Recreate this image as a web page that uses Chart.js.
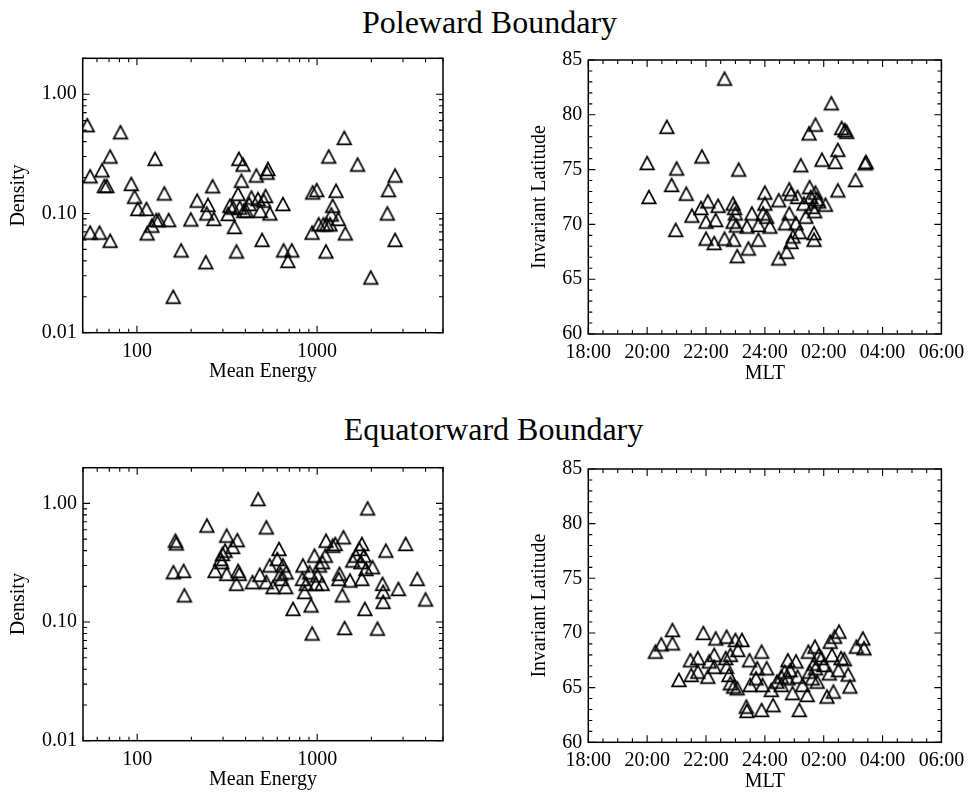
<!DOCTYPE html>
<html>
<head>
<meta charset="utf-8">
<script src="https://cdn.jsdelivr.net/npm/chart.js@4.4.1/dist/chart.umd.min.js"></script>
<style>
  html, body { margin: 0; padding: 0; background: #fff; }
  body { width: 973px; height: 793px; position: relative; overflow: hidden; font-family: "Liberation Serif", "Times New Roman", serif; }
  .title { position: absolute; width: 973px; text-align: center; font-size: 32px; line-height: 32px; color: #000; }
  canvas { position: absolute; }
</style>
</head>
<body>
<div class="title" style="top:6px; left:3px">Poleward Boundary</div>
<div class="title" style="top:413px; left:7px">Equatorward Boundary</div>
<canvas id="poleEnergyChart"></canvas>
<canvas id="poleMltChart"></canvas>
<canvas id="eqEnergyChart"></canvas>
<canvas id="eqMltChart"></canvas>
<script>
// tick labels
const energyTicks = [100, 1000];
const energyTickLabels = ['100', '1000'];
const densityTicks = [0.01, 0.1, 1];
const densityTickLabels = ['0.01', '0.10', '1.00'];
const mltTicks = [18, 20, 22, 24, 26, 28, 30];
const mltTickLabels = ['18:00', '20:00', '22:00', '24:00', '02:00', '04:00', '06:00'];
const latTicks = [60, 65, 70, 75, 80, 85];

// poleward boundary: mean energy vs density
const poleEnergy = [53, 55, 55, 62, 64, 66, 68, 71, 71, 81, 93, 97, 101, 113, 114, 121, 126, 128, 132, 142,
  150, 159, 176, 199, 216, 241, 248, 244, 263, 267, 321, 342, 348, 364, 368, 357, 380, 388, 372, 392,
  405, 432, 460, 470, 484, 495, 505, 534, 528, 518, 547, 646, 652, 688, 724, 938, 945, 995, 1020, 1084,
  1130, 1160, 1180, 1220, 1200, 1120, 1274, 1310, 1416, 1435, 1678, 1986, 2455, 2490, 2710, 2710, 328, 420];
const poleDensity = [0.55, 0.205, 0.069, 0.069, 0.23, 0.17, 0.17, 0.30, 0.059, 0.48, 0.177, 0.138, 0.109, 0.109, 0.068, 0.079, 0.287, 0.088, 0.088, 0.147,
  0.088, 0.020, 0.049, 0.089, 0.128, 0.039, 0.118, 0.100, 0.169, 0.090, 0.099, 0.112, 0.077, 0.146, 0.287, 0.048, 0.188, 0.257, 0.112, 0.105,
  0.105, 0.136, 0.208, 0.132, 0.105, 0.060, 0.128, 0.236, 0.220, 0.140, 0.100, 0.120, 0.049, 0.040, 0.049, 0.069, 0.150, 0.157, 0.081, 0.081,
  0.081, 0.300, 0.081, 0.116, 0.098, 0.048, 0.155, 0.090, 0.430, 0.068, 0.257, 0.029, 0.100, 0.157, 0.208, 0.060, 0.116, 0.120];

// poleward boundary: MLT (hours, 24+ = after midnight) vs invariant latitude
const poleMlt = [20.0, 20.06, 20.67, 20.83, 21.0, 20.97, 21.33, 21.52, 21.86, 21.83, 22.06, 22.0, 22.0, 22.28, 22.33, 22.41, 22.63, 22.63, 22.92, 22.94,
  22.92, 23.0, 23.03, 23.06, 22.97, 23.11, 23.39, 23.44, 23.56, 23.78, 23.78, 23.94, 24.0, 24.0, 24.06, 24.17, 24.47, 24.47, 24.74, 24.7,
  24.83, 24.83, 24.89, 24.89, 24.96, 25.06, 25.11, 25.17, 25.22, 25.33, 25.39, 25.5, 25.52, 25.56, 25.61, 25.67, 25.67, 25.72, 25.69, 25.72,
  25.78, 25.83, 25.94, 26.06, 26.26, 26.39, 26.48, 26.48, 26.61, 26.72, 26.78, 27.08, 27.41, 27.44];
const poleLat = [75.6, 72.5, 78.9, 73.6, 75.1, 69.5, 72.8, 70.8, 76.2, 71.5, 72.1, 70.25, 68.7, 68.3, 70.4, 71.7, 83.3, 68.7, 71.9, 68.6,
  70.25, 71.0, 69.9, 67.1, 71.5, 75.0, 69.8, 67.8, 71.0, 68.6, 69.95, 71.0, 72.9, 71.9, 70.7, 69.8, 72.2, 66.9, 67.5, 70.1,
  71.0, 73.2, 72.8, 68.4, 68.9, 70.1, 72.5, 69.3, 75.4, 71.9, 70.7, 78.3, 73.4, 72.5, 71.6, 69.2, 68.6, 79.1, 71.2, 72.9,
  72.3, 72.1, 75.9, 71.8, 81.05, 75.7, 76.8, 73.1, 78.8, 78.6, 78.45, 74.05, 75.57, 75.7];

// equatorward boundary: mean energy vs density
const eqEnergy = [163, 165, 159, 181, 183, 244, 271, 291, 298, 295, 308, 314, 314, 339, 360, 364, 356, 369, 437, 470,
  480, 522, 545, 522, 569, 614, 600, 626, 645, 632, 668, 673, 734, 833, 828, 851, 869, 907, 925, 938,
  966, 985, 1004, 1030, 1065, 1070, 1110, 1120, 1220, 1260, 1317, 1330, 1380, 1400, 1420, 1521, 1574, 1640, 1715, 1750,
  1770, 1770, 1820, 1840, 1905, 1865, 2030, 2163, 2306, 2325, 2325, 2406, 2826, 3100, 3597, 4000];
const eqDensity = [0.485, 0.46, 0.263, 0.27, 0.168, 0.65, 0.27, 0.34, 0.375, 0.32, 0.40, 0.535, 0.255, 0.43, 0.49, 0.27, 0.21, 0.255, 0.217, 1.087,
  0.25, 0.628, 0.30, 0.217, 0.197, 0.413, 0.34, 0.255, 0.30, 0.231, 0.197, 0.262, 0.129, 0.30, 0.231, 0.179, 0.21, 0.262, 0.138, 0.080,
  0.363, 0.21, 0.247, 0.30, 0.21, 0.32, 0.363, 0.485, 0.44, 0.455, 0.231, 0.255, 0.168, 0.518, 0.089, 0.224, 0.33, 0.363, 0.413, 0.32,
  0.455, 0.231, 0.363, 0.129, 0.908, 0.28, 0.29, 0.088, 0.21, 0.18, 0.148, 0.40, 0.19, 0.455, 0.231, 0.155];

// equatorward boundary: MLT vs invariant latitude
const eqMlt = [20.28, 20.48, 20.86, 20.86, 21.08, 21.47, 21.5, 21.72, 21.72, 21.91, 22.06, 22.11, 22.28, 22.33, 22.28, 22.67, 22.7, 22.7, 22.78, 22.83,
  22.83, 22.94, 23.0, 23.08, 23.06, 23.22, 23.37, 23.39, 23.48, 23.5, 23.7, 23.74, 23.89, 23.89, 23.92, 24.06, 24.22, 24.28, 24.41, 24.56,
  24.56, 24.67, 24.78, 24.78, 24.86, 24.94, 25.06, 25.11, 25.17, 25.28, 25.44, 25.48, 25.52, 25.61, 25.67, 25.7, 25.72, 25.78, 25.83, 25.92,
  26.0, 26.11, 26.19, 26.22, 26.28, 26.33, 26.37, 26.52, 26.5, 26.59, 26.7, 26.83, 26.89, 27.11, 27.33, 27.37];
const eqLat = [68.29, 68.96, 70.27, 69.05, 65.7, 67.5, 66.16, 67.7, 66.46, 70.0, 66.0, 67.4, 68.0, 69.5, 66.9, 67.7, 69.66, 66.9, 66.16, 68.0,
  65.4, 65.1, 69.36, 68.45, 64.94, 69.36, 63.26, 62.87, 67.5, 65.24, 65.85, 66.77, 68.29, 62.96, 65.24, 66.77, 64.79, 63.4, 65.55, 66.0,
  65.24, 66.46, 67.5, 65.85, 66.6, 64.5, 67.4, 66.0, 62.96, 65.24, 64.33, 68.29, 66.46, 65.85, 67.2, 68.75, 66.77, 65.55, 67.98, 67.7,
  67.07, 64.18, 66.3, 69.2, 67.98, 64.64, 69.66, 70.12, 66.6, 67.7, 67.6, 66.2, 65.1, 68.75, 69.5, 68.6];

Chart.defaults.color = '#000';
Chart.defaults.font.family = '"Liberation Serif", "Times New Roman", serif';

// open triangle like IDL psym=5, centred on its box
function triangleMarker() {
  const c = document.createElement('canvas');
  c.width = 20; c.height = 20;
  const g = c.getContext('2d');
  g.strokeStyle = '#000';
  g.lineWidth = 1.7;
  g.beginPath();
  g.moveTo(10 - 6.8, 10 + 6.4);
  g.lineTo(10, 10 - 6.4);
  g.lineTo(10 + 6.8, 10 + 6.4);
  g.closePath();
  g.stroke();
  return c;
}
const marker = triangleMarker();

function logMinor(min, max) {
  const out = [];
  for (let d = Math.floor(Math.log10(min)); d <= Math.ceil(Math.log10(max)); d++) {
    for (let k = 1; k < 10; k++) {
      const v = k * Math.pow(10, d);
      if (v >= min * 0.999 && v <= max * 1.001) out.push({ v: v, major: k === 1 });
    }
  }
  return out;
}
function linMinor(min, max, step, majorEvery) {
  const out = [];
  for (let v = min; v <= max + 1e-9; v += step) {
    out.push({ v: v, major: Math.abs(v / majorEvery - Math.round(v / majorEvery)) < 1e-6 });
  }
  return out;
}

// box frame with inward ticks on all four sides
const framePlugin = {
  id: 'idlFrame',
  afterDraw(chart) {
    const { ctx, chartArea: a, scales } = chart;
    const xs = scales.x, ys = scales.y;
    const xt = xs.type === 'logarithmic' ? logMinor(xs.min, xs.max) : linMinor(xs.min, xs.max, 0.5, 2);
    const yt = ys.type === 'logarithmic' ? logMinor(ys.min, ys.max) : linMinor(ys.min, ys.max, 1, 5);
    ctx.save();
    ctx.strokeStyle = '#000';
    ctx.lineWidth = 1.1;
    ctx.beginPath();
    xt.forEach(t => {
      const px = xs.getPixelForValue(t.v);
      const len = t.major ? 7 : 4;
      ctx.moveTo(px, a.bottom); ctx.lineTo(px, a.bottom - len);
      ctx.moveTo(px, a.top); ctx.lineTo(px, a.top + len);
    });
    yt.forEach(t => {
      const py = ys.getPixelForValue(t.v);
      const len = t.major ? 7 : 4;
      ctx.moveTo(a.left, py); ctx.lineTo(a.left + len, py);
      ctx.moveTo(a.right, py); ctx.lineTo(a.right - len, py);
    });
    ctx.stroke();
    ctx.lineWidth = 1.5;
    ctx.strokeRect(a.left, a.top, a.right - a.left, a.bottom - a.top);
    ctx.restore();
  }
};

function makePanel(id, box, xOpts, yOpts, xVals, yVals) {
  const canvas = document.getElementById(id);
  canvas.width = box.width;
  canvas.height = box.height;
  canvas.style.left = box.left + 'px';
  canvas.style.top = box.top + 'px';
  const yWidth = box.plotLeft - box.left;
  const xHeight = 49.3;
  const pad = {
    left: 0,
    top: box.plotTop - box.top,
    right: box.left + box.width - box.plotRight,
    bottom: box.top + box.height - (box.plotBottom + xHeight)
  };
  const tickFont = { size: 20, lineHeight: 1 };
  new Chart(canvas, {
    type: 'scatter',
    data: {
      datasets: [{
        data: xVals.map((v, i) => ({ x: v, y: yVals[i] })),
        pointStyle: marker,
        pointRadius: 7,
        pointHoverRadius: 7
      }]
    },
    plugins: [framePlugin],
    options: {
      responsive: false,
      animation: false,
      events: [],
      layout: { padding: pad },
      plugins: { legend: { display: false }, tooltip: { enabled: false } },
      scales: {
        x: Object.assign({
          position: 'bottom',
          afterBuildTicks: s => { s.ticks = xOpts.tickValues.map(v => ({ value: v })); },
          ticks: {
            callback: v => { const i = xOpts.tickValues.indexOf(v); return i < 0 ? '' : xOpts.tickLabels[i]; },
            autoSkip: false, maxRotation: 0, padding: 8.8, font: tickFont
          },
          grid: { display: false, drawTicks: false },
          border: { display: false },
          title: { display: true, text: xOpts.title, font: { size: 20, lineHeight: 1 }, padding: 0 },
          afterFit: s => { s.height = xHeight; }
        }, xOpts.range),
        y: Object.assign({
          position: 'left',
          afterBuildTicks: s => { s.ticks = yOpts.tickValues.map(v => ({ value: v })); },
          ticks: {
            callback: v => { const i = yOpts.tickValues.indexOf(v); return i < 0 ? '' : yOpts.tickLabels[i]; },
            autoSkip: false, padding: 6, font: tickFont
          },
          grid: { display: false, drawTicks: false },
          border: { display: false },
          title: { display: true, text: yOpts.title, font: { size: 20, lineHeight: 1 }, padding: { top: yOpts.titlePad, bottom: 0 } },
          afterFit: s => { s.width = yWidth; }
        }, yOpts.range)
      }
    }
  });
}

const energyAxis = { range: { type: 'logarithmic', min: 50, max: 5000 }, tickValues: energyTicks, tickLabels: energyTickLabels, title: 'Mean Energy' };
const densityAxis = { range: { type: 'logarithmic', min: 0.01, max: 2 }, tickValues: densityTicks, tickLabels: densityTickLabels, title: 'Density', titlePad: 9 };
const mltAxis = { range: { type: 'linear', min: 18, max: 30 }, tickValues: mltTicks, tickLabels: mltTickLabels, title: 'MLT' };
const latAxis = { range: { type: 'linear', min: 60, max: 85 }, tickValues: latTicks, tickLabels: latTicks.map(String), title: 'Invariant Latitude', titlePad: 9.7 };

makePanel('poleEnergyChart', { left: 0, top: 40, width: 460, height: 350, plotLeft: 82.7, plotTop: 58.3, plotRight: 443, plotBottom: 332.7 },
  energyAxis, densityAxis, poleEnergy, poleDensity);
makePanel('poleMltChart', { left: 520, top: 40, width: 453, height: 350, plotLeft: 588.3, plotTop: 60, plotRight: 948.3, plotBottom: 334 },
  mltAxis, latAxis, poleMlt, poleLat);
makePanel('eqEnergyChart', { left: 0, top: 450, width: 460, height: 343, plotLeft: 83, plotTop: 467.7, plotRight: 443, plotBottom: 740.7 },
  energyAxis, densityAxis, eqEnergy, eqDensity);
makePanel('eqMltChart', { left: 520, top: 450, width: 453, height: 343, plotLeft: 588.3, plotTop: 469, plotRight: 948.3, plotBottom: 742.3 },
  mltAxis, latAxis, eqMlt, eqLat);
</script>
</body>
</html>
